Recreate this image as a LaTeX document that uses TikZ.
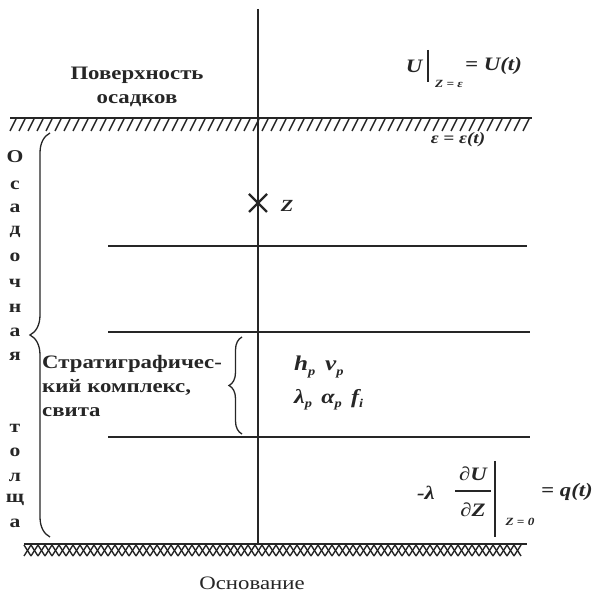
\documentclass[tikz,border=0pt]{standalone}
\usepackage{fontspec}
\setmainfont{Liberation Serif}[FakeStretch=1.2]
\usetikzlibrary{decorations.pathreplacing}
\newcommand\sbs[1]{\raisebox{-0.45ex}{\fontsize{12}{12}\selectfont #1}}
\begin{document}
\begin{tikzpicture}[x=1pt,y=-1pt,
  ln/.style={line width=1.8pt, draw=black!85},
  hatch/.style={line width=1.4pt, draw=black!85},
  brc/.style={line width=1.3pt, draw=black!85, decorate},
  txt/.style={font=\fontsize{19}{24}\selectfont\bfseries, inner sep=0pt, text=black!85},
  rtxt/.style={font=\fontsize{19}{24}\selectfont, inner sep=0pt, text=black!85},
  col/.style={font=\fontsize{18}{20}\selectfont\bfseries, inner sep=0pt, text=black!85},
  mth/.style={font=\fontsize{19}{22}\selectfont\bfseries\itshape, inner sep=0pt, text=black!85},
  smth/.style={font=\fontsize{11}{12}\selectfont\bfseries\itshape, inner sep=0pt, text=black!85}]
\useasboundingbox (0,0) rectangle (595,593);
% axis
\draw[ln] (258,9) -- (258,543);
% surface
\draw[ln] (10,118) -- (532,118);
\foreach \x in {10,19,...,525} \draw[hatch] (\x+6,119) -- (\x,131);
% base
\draw[ln] (24,544) -- (527,544);
\foreach \x in {24,31,...,520} {\draw[hatch] (\x,545) -- (\x+7,556); \draw[hatch] (\x+7,545) -- (\x,556);}
% layer boundaries
\draw[ln] (108,246) -- (527,246);
\draw[ln] (108,332) -- (530,332);
\draw[ln] (108,437) -- (530,437);
% point Z
\draw[line width=2.2pt, black!85] (249,194) -- (267,212) (267,194) -- (249,212);
\node[mth, font=\fontsize{17}{20}\selectfont\bfseries\itshape] (zl) at (287,206) {Z};
% labels
\node[txt, align=center] (surf) at (137,87) {Поверхность\\осадков};
\node[rtxt] (base) at (252,583) {Основание};
\node[txt, align=left, anchor=west] (strat) at (42,386) {Стратиграфичес-\\кий комплекс,\\свита};
% column letters
\foreach \l/\y [count=\i] in {О/157,с/185,а/208,д/232,о/257,ч/283,н/308,а/332,я/356,т/428,о/452,л/477,щ/500,а/523}
  \node[col] (c\i) at (15,\y) {\l};
% braces
\draw[brc, decoration={brace, amplitude=20pt}] (50,537) -- (50,133);
\draw[brc, decoration={brace, amplitude=13pt}] (242,434) -- (242,337);
% top formula
\node[mth] (u1) at (414,66) {U};
\draw[line width=1.3pt, black!85] (428,50) -- (428,82);
\node[smth] (sub1) at (449,84) {Z = ε};
\node[mth, anchor=west] (u2) at (465,66) {= U(t)};
\node[mth, font=\fontsize{16}{18}\selectfont\bfseries\itshape] (eps) at (458,140) {ε = ε(t)};
% parameters
\node[mth, font=\fontsize{21}{22}\selectfont\bfseries\itshape, anchor=west] (hv) at (294,367) {h\sbs{p} \,v\sbs{p}};
\node[mth, font=\fontsize{20}{22}\selectfont\bfseries\itshape, anchor=west] (la) at (294,400) {λ\sbs{p} \,α\sbs{p} \,f\sbs{i}};
% bottom formula
\node[mth, anchor=east] (lam) at (435,493) {-λ};
\node[mth] (num) at (473,474) {∂U};
\draw[line width=1.3pt, black!85] (455,491) -- (491,491);
\node[mth] (den) at (473,510) {∂Z};
\draw[line width=1.3pt, black!85] (495,461) -- (495,537);
\node[smth] (sub2) at (520,522) {Z = 0};
\node[mth, anchor=west] (q) at (541,492) {= q(t)};
\end{tikzpicture}
\end{document}
